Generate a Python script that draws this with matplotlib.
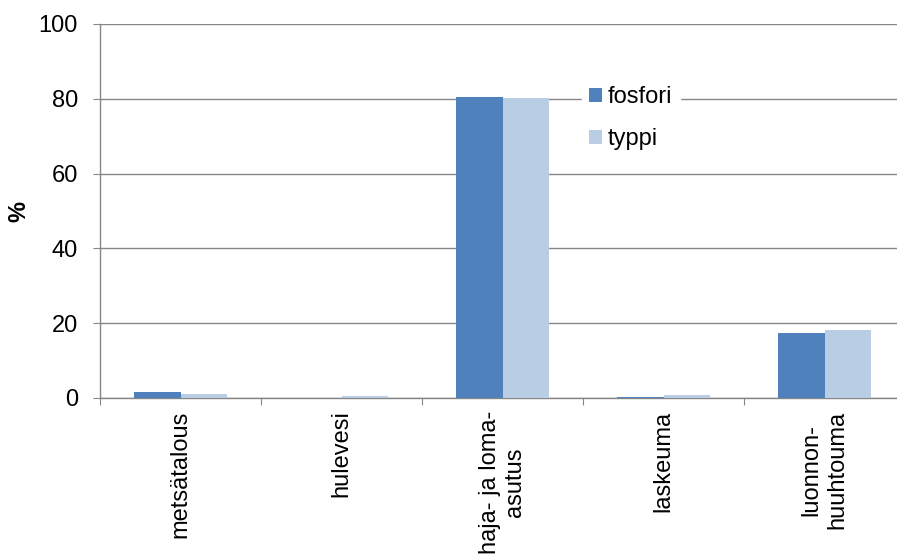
import matplotlib.pyplot as plt
import numpy as np

plt.rcParams["font.family"] = ["Liberation Sans", "DejaVu Sans"]

categories = ["metsätalous", "hulevesi", "haja- ja loma-\nasutus", "laskeuma", "luonnon-\nhuuhtouma"]
fosfori = [1.6, 0.1, 80.5, 0.3, 17.5]
typpi = [1.1, 0.6, 80.3, 0.8, 18.2]
yticks = [0, 20, 40, 60, 80, 100]

FOSFORI_C = "#4F81BD"
TYPPI_C = "#B9CDE5"
GRID_C = "#868686"
FS = 17

fig = plt.figure(figsize=(8.97, 5.55), dpi=100)
ax = fig.add_axes([100 / 897, 1 - 398 / 555, 805 / 897, 374 / 555])

x = np.arange(len(categories))
w = 0.286
ax.bar(x - w / 2, fosfori, width=w, color=FOSFORI_C, label="fosfori", zorder=3)
ax.bar(x + w / 2, typpi, width=w, color=TYPPI_C, label="typpi", zorder=3)

ax.set_xlim(-0.5, len(categories) - 0.5)
ax.set_ylim(0, 100)
ax.set_yticks(yticks)
ax.set_yticklabels([str(t) for t in yticks], fontsize=FS)
ax.yaxis.grid(True, color=GRID_C, linewidth=1, zorder=0)
ax.set_axisbelow(True)

# category boundaries carry the ticks, labels sit in the middle
ax.set_xticks(np.arange(len(categories) + 1) - 0.5)
ax.set_xticklabels([])
ax.set_xticks(x, minor=True)
ax.set_xticklabels(categories, minor=True, rotation=90, fontsize=FS,
                   va="top", ha="center", multialignment="center")
ax.tick_params(axis="x", which="minor", length=0, pad=9)
ax.tick_params(axis="x", which="major", length=5, color=GRID_C, direction="out")
ax.tick_params(axis="y", length=5, color=GRID_C, direction="out", pad=11)

for side in ["top", "right"]:
    ax.spines[side].set_visible(False)
for side in ["left", "bottom"]:
    ax.spines[side].set_color(GRID_C)
    ax.spines[side].set_linewidth(1)

ax.set_ylabel("%", fontsize=FS, fontweight="bold")
ax.yaxis.set_label_coords(-0.087, 0.5)

leg = ax.legend(loc="upper left", bbox_to_anchor=(482 / 805, 1 - 55 / 374),
                frameon=True, fontsize=FS, handlelength=0.55, handleheight=0.55,
                handletextpad=0.25, labelspacing=0.85, borderpad=0.3,
                borderaxespad=0)
leg.get_frame().set_edgecolor("white")
leg.get_frame().set_facecolor("white")
leg.get_frame().set_alpha(1)
leg.get_frame().set_boxstyle("square", pad=0)

fig.savefig("out.png", dpi=100)
